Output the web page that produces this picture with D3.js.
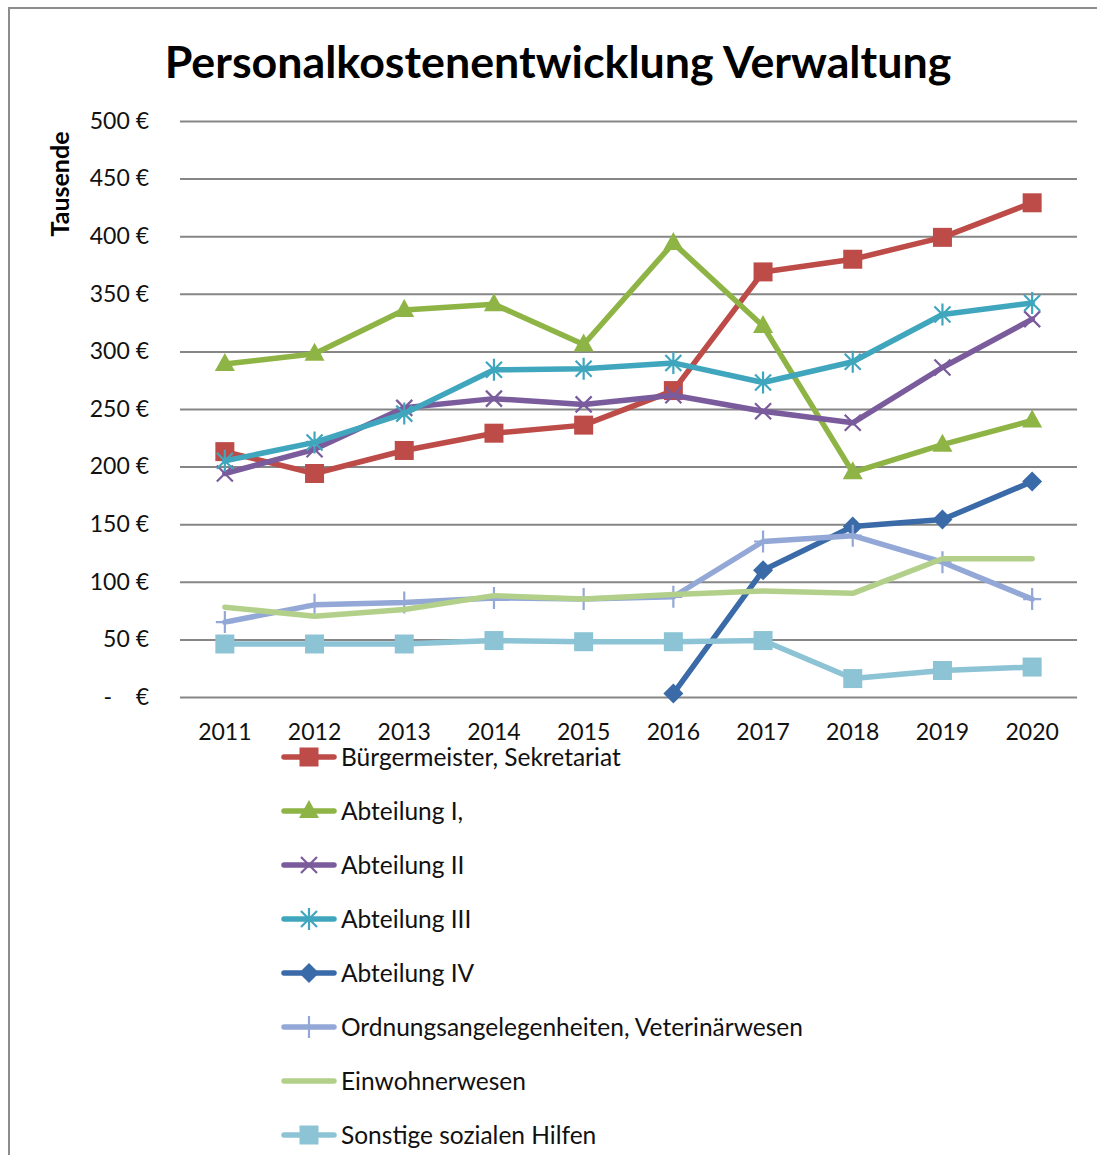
<!DOCTYPE html>
<html>
<head>
<meta charset="utf-8">
<script src="https://cdn.jsdelivr.net/npm/d3@7"></script>
<style>
	body { margin: 0; background: #fff; }
	svg { display: block; font-family: Lato, "Open Sans", sans-serif; }
</style>
</head>
<body>
<div id="chart"><svg width="1097" height="1155"></svg></div>
<script>
var years = ["2011", "2012", "2013", "2014", "2015", "2016", "2017", "2018", "2019", "2020"];
var yTicks = [0, 50, 100, 150, 200, 250, 300, 350, 400, 450, 500];

var seriesNames = [
	"Bürgermeister, Sekretariat",
	"Abteilung I,",
	"Abteilung II",
	"Abteilung III",
	"Abteilung IV",
	"Ordnungsangelegenheiten, Veterinärwesen",
	"Einwohnerwesen",
	"Sonstige sozialen Hilfen"
];

// values in thousand euro (null = no value)
var buergermeister = [213, 194, 214, 229, 236, 266, 369, 380, 399, 429];
var abteilung1     = [289, 298, 336, 341, 306, 394, 322, 195, 219, 240];
var abteilung2     = [194, 215, 251, 259, 254, 262, 248, 238, 286, 328];
var abteilung3     = [205, 221, 246, 284, 285, 290, 273, 291, 332, 342];
var abteilung4     = [null, null, null, null, null, 3, 110, 148, 154, 187];
var ordnung        = [65, 80, 82, 86, 85, 87, 135, 140, 117, 85];
var einwohner      = [78, 70, 76, 88, 85, 89, 92, 90, 120, 120];
var sonstige       = [46, 46, 46, 49, 48, 48, 49, 16, 23, 26];

var seriesValues = [buergermeister, abteilung1, abteilung2, abteilung3, abteilung4, ordnung, einwohner, sonstige];
var seriesColors = ["#bd4b48", "#8fb446", "#7a5b9c", "#3fa6bd", "#3a6ba8", "#93a8d6", "#b3d08b", "#8cc3d5"];
var seriesMarkers = ["square", "triangle", "x", "asterisk", "diamond", "plus", "none", "square"];

(function () {
	var svg = d3.select("#chart").select("svg");
	var width = +svg.attr("width");

	var left = 180, right = 1077, top = 121, bottom = 697;

	// frame
	svg.append("path")
		.attr("d", "M9,1155 V8 H" + width)
		.attr("fill", "none")
		.attr("stroke", "#8d8d8d")
		.attr("stroke-width", 2);

	// title, sized to the width it has in the picture
	var title = svg.append("text")
		.attr("x", 558)
		.attr("y", 78)
		.attr("text-anchor", "middle")
		.style("font-weight", "bold")
		.style("font-size", "42px")
		.style("fill", "#000")
		.text("Personalkostenentwicklung Verwaltung");
	var tw = title.node().getComputedTextLength();
	title.style("font-size", (42 * 787 / tw) + "px");

	var x = d3.scaleBand()
		.domain(years)
		.range([left, right]);

	var y = d3.scaleLinear()
		.domain([0, 500])
		.range([bottom, top]);

	var yAxis = svg.append("g")
		.attr("transform", "translate(" + left + ",0)")
		.call(d3.axisLeft(y)
			.tickValues(yTicks)
			.tickSize(-(right - left))
			.tickPadding(31)
			.tickFormat(function(d) { return d == 0 ? "-    €" : d + " €"; }));
	yAxis.select(".domain").remove();
	yAxis.selectAll("line")
		.attr("stroke", "#868686")
		.attr("stroke-width", 2);
	yAxis.selectAll("text")
		.style("font-size", "23px")
		.style("font-family", "Lato, sans-serif")
		.style("white-space", "pre")
		.attr("fill", "#111");

	var xAxis = svg.append("g")
		.attr("transform", "translate(0," + bottom + ")")
		.call(d3.axisBottom(x).tickSize(0).tickPadding(27));
	xAxis.select(".domain").remove();
	xAxis.selectAll("text")
		.style("font-size", "23px")
		.style("font-family", "Lato, sans-serif")
		.attr("fill", "#111");

	svg.append("text")
		.attr("transform", "translate(69,184) rotate(-90)")
		.attr("text-anchor", "middle")
		.style("font-weight", "bold")
		.style("font-size", "25px")
		.text("Tausende");

	function markerPath(type) {
		if (type == "square") return "M-9.5,-9.5h19v19h-19Z";
		if (type == "triangle") return "M0,-11L10,7L-10,7Z";
		if (type == "diamond") return "M0,-10L10,0L0,10L-10,0Z";
		if (type == "x") return "M-8,-8L8,8M8,-8L-8,8";
		if (type == "asterisk") return "M-8,-8L8,8M8,-8L-8,8M0,-11L0,11";
		if (type == "plus") return "M-9,0L9,0M0,-11L0,11";
		return "";
	}
	function isStroked(type) {
		return type == "x" || type == "asterisk" || type == "plus";
	}

	var line = d3.line()
		.defined(function(d) { return d != null; })
		.x(function(d, i) { return x(years[i]) + x.bandwidth() / 2; })
		.y(function(d) { return y(d); });

	var series = svg.append("g")
		.selectAll("g")
		.data(seriesNames)
		.enter()
		.append("g");

	series.append("path")
		.attr("d", function(d, i) { return line(seriesValues[i]); })
		.attr("fill", "none")
		.attr("stroke", function(d, i) { return seriesColors[i]; })
		.attr("stroke-width", 5.5)
		.attr("stroke-linejoin", "round")
		.attr("stroke-linecap", "round");

	series.each(function(name, si) {
		var type = seriesMarkers[si];
		if (type == "none") return;
		var pts = seriesValues[si]
			.map(function(v, i) { return {v: v, year: years[i]}; })
			.filter(function(p) { return p.v != null; });
		d3.select(this)
			.selectAll("path.mk")
			.data(pts)
			.enter()
			.append("path")
			.attr("class", "mk")
			.attr("transform", function(p) { return "translate(" + (x(p.year) + x.bandwidth() / 2) + "," + y(p.v) + ")"; })
			.attr("d", markerPath(type))
			.attr("fill", isStroked(type) ? "none" : seriesColors[si])
			.attr("stroke", seriesColors[si])
			.attr("stroke-width", isStroked(type) ? 2.2 : 0);
	});

	// legend
	var legend = svg.append("g")
		.selectAll("g")
		.data(seriesNames)
		.enter()
		.append("g")
		.attr("transform", function(d, i) { return "translate(0," + (757 + i * 54) + ")"; });

	legend.append("line")
		.attr("x1", 284)
		.attr("x2", 334)
		.attr("stroke", function(d, i) { return seriesColors[i]; })
		.attr("stroke-width", 5.5)
		.attr("stroke-linecap", "round");

	legend.append("path")
		.attr("transform", "translate(309,0)")
		.attr("d", function(d, i) { return markerPath(seriesMarkers[i]); })
		.attr("fill", function(d, i) { return isStroked(seriesMarkers[i]) ? "none" : seriesColors[i]; })
		.attr("stroke", function(d, i) { return seriesColors[i]; })
		.attr("stroke-width", function(d, i) { return isStroked(seriesMarkers[i]) ? 2.2 : 0; });

	legend.append("text")
		.attr("x", 341)
		.attr("dy", "0.35em")
		.style("font-size", "24.5px")
		.attr("fill", "#111")
		.text(function(d) { return d; });
})();
</script>
</body>
</html>
